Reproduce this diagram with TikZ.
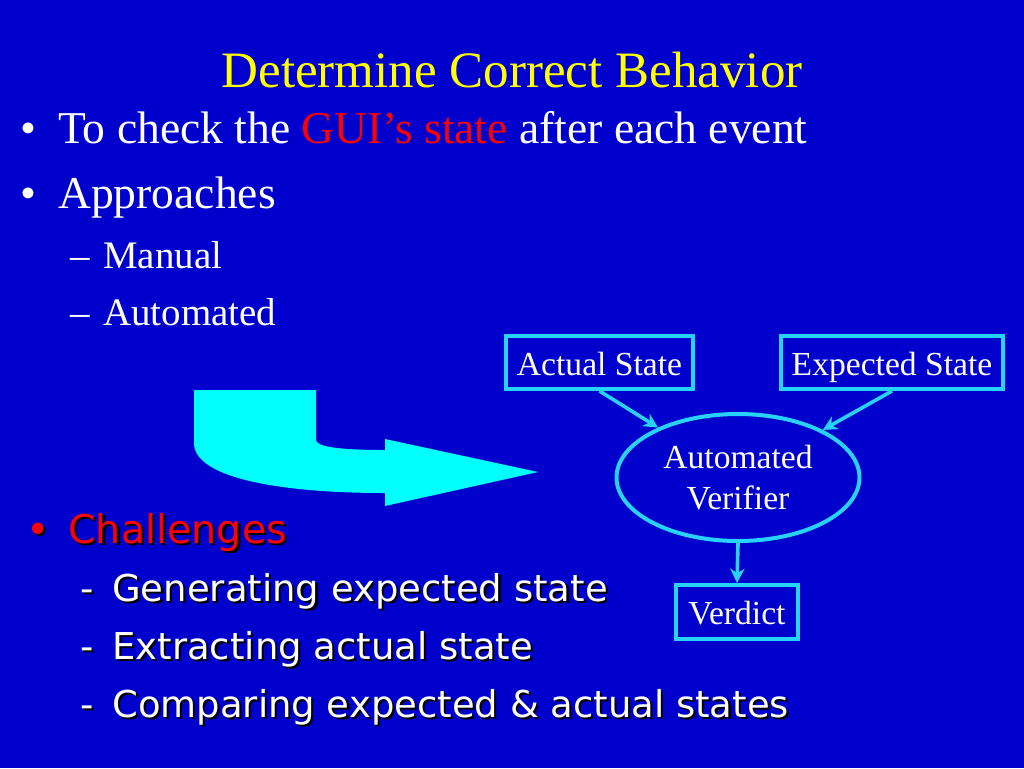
\documentclass[tikz,border=0pt]{standalone}
\usepackage{fontspec}
\setmainfont{Liberation Serif}
\newfontfamily\comicfont{DejaVu Sans}
\usetikzlibrary{shapes.geometric, arrows.meta}

\definecolor{slideblue}{RGB}{0,0,204}
\definecolor{titleyellow}{RGB}{255,255,0}
\definecolor{guired}{RGB}{255,0,0}
\definecolor{arrowcyan}{RGB}{0,255,255}
\definecolor{boxcyan}{RGB}{40,210,255}

% text with a black drop shadow
\newcommand{\shadowed}[2]{{\rlap{\kern1.5pt\raisebox{-1.5pt}{\color{black}#2}}\color{#1}#2}}

\begin{document}
\begin{tikzpicture}[x=0.25mm, y=-0.25mm]
\tikzstyle{slidetext} = [anchor=base west, inner sep=0pt, text=white]
\tikzstyle{box} = [rectangle, draw=boxcyan, line width=1mm, text=white,
                   font=\fontsize{23.9}{28.5}\selectfont, text height=22pt, text depth=4.2pt,
                   minimum height=13.25mm]
\tikzstyle{conn} = [draw=boxcyan, line width=0.9mm, -{Stealth[length=3.6mm, width=3.6mm]}]

\fill[slideblue] (0,0) rectangle (1024,768);
\useasboundingbox (0,0) rectangle (1024,768);

% title and first bullets
\node[anchor=base, inner sep=0pt, text=titleyellow, font=\fontsize{36.3}{40}\selectfont]
  (title) at (512,87) {Determine Correct Behavior};
\node[slidetext, font=\fontsize{32.4}{36}\selectfont] (dotcheck) at (20,143) {\textbullet};
\node[slidetext, font=\fontsize{32.4}{36}\selectfont] (check) at (58,143)
  {To check the \textcolor{guired}{GUI’s state} after each event};
\node[slidetext, font=\fontsize{32.4}{36}\selectfont] (dotappr) at (20,208) {\textbullet};
\node[slidetext, font=\fontsize{32.4}{36}\selectfont] (approaches) at (58,208) {Approaches};
\node[slidetext, font=\fontsize{27.7}{32}\selectfont] (dashmanual) at (70,268) {–};
\node[slidetext, font=\fontsize{27.7}{32}\selectfont] (manual) at (103,268) {Manual};
\node[slidetext, font=\fontsize{27.7}{32}\selectfont] (dashauto) at (70,325) {–};
\node[slidetext, font=\fontsize{27.7}{32}\selectfont] (automated) at (103,325) {Automated};

% big bent arrow
\fill[arrowcyan] (194,390) -- (316,390) -- (316,440)
  .. controls (316,446) and (335,450) .. (385,450) -- (385,439) -- (538,472)
  -- (385,506) -- (385,493) .. controls (280,493) and (194,478) .. (194,443) -- cycle;

% verifier diagram
\node[box, minimum width=46.75mm] (actual) at (599.5,362.5) {Actual State};
\node[box, minimum width=55.5mm] (expected) at (892,362.5) {Expected State};
\node[ellipse, draw=boxcyan, line width=1mm, text=white, align=center,
      font=\fontsize{23.9}{29.5}\selectfont, minimum width=60.75mm, minimum height=31.75mm,
      inner sep=0pt] (verifier) at (738,477.5) {Automated\\ Verifier};
\node[box, minimum width=30.5mm, minimum height=13.5mm] (verdict) at (737,612) {Verdict};

\draw[conn] (actual.south) -- (verifier);
\draw[conn] (expected.south) -- (verifier);
\draw[conn] (verifier.south) -- (verdict.north);

% challenges
\node[slidetext, font=\comicfont\fontsize{28.2}{32}\selectfont] (dotchall) at (26,543)
  {\shadowed{guired}{•}};
\node[slidetext, font=\comicfont\fontsize{28.2}{32}\selectfont] (challenges) at (68,543)
  {\shadowed{guired}{Challenges}};
\node[slidetext, font=\comicfont\fontsize{26.3}{30}\selectfont] (dashgen) at (80,601)
  {\shadowed{white}{-}};
\node[slidetext, font=\comicfont\fontsize{26.3}{30}\selectfont] (generating) at (112,601)
  {\shadowed{white}{Generating expected state}};
\node[slidetext, font=\comicfont\fontsize{26.3}{30}\selectfont] (dashext) at (80,659)
  {\shadowed{white}{-}};
\node[slidetext, font=\comicfont\fontsize{26.3}{30}\selectfont] (extracting) at (112,659)
  {\shadowed{white}{Extracting actual state}};
\node[slidetext, font=\comicfont\fontsize{26.3}{30}\selectfont] (dashcomp) at (80,717)
  {\shadowed{white}{-}};
\node[slidetext, font=\comicfont\fontsize{26.3}{30}\selectfont] (comparing) at (112,717)
  {\shadowed{white}{Comparing expected \& actual states}};
\end{tikzpicture}
\end{document}
